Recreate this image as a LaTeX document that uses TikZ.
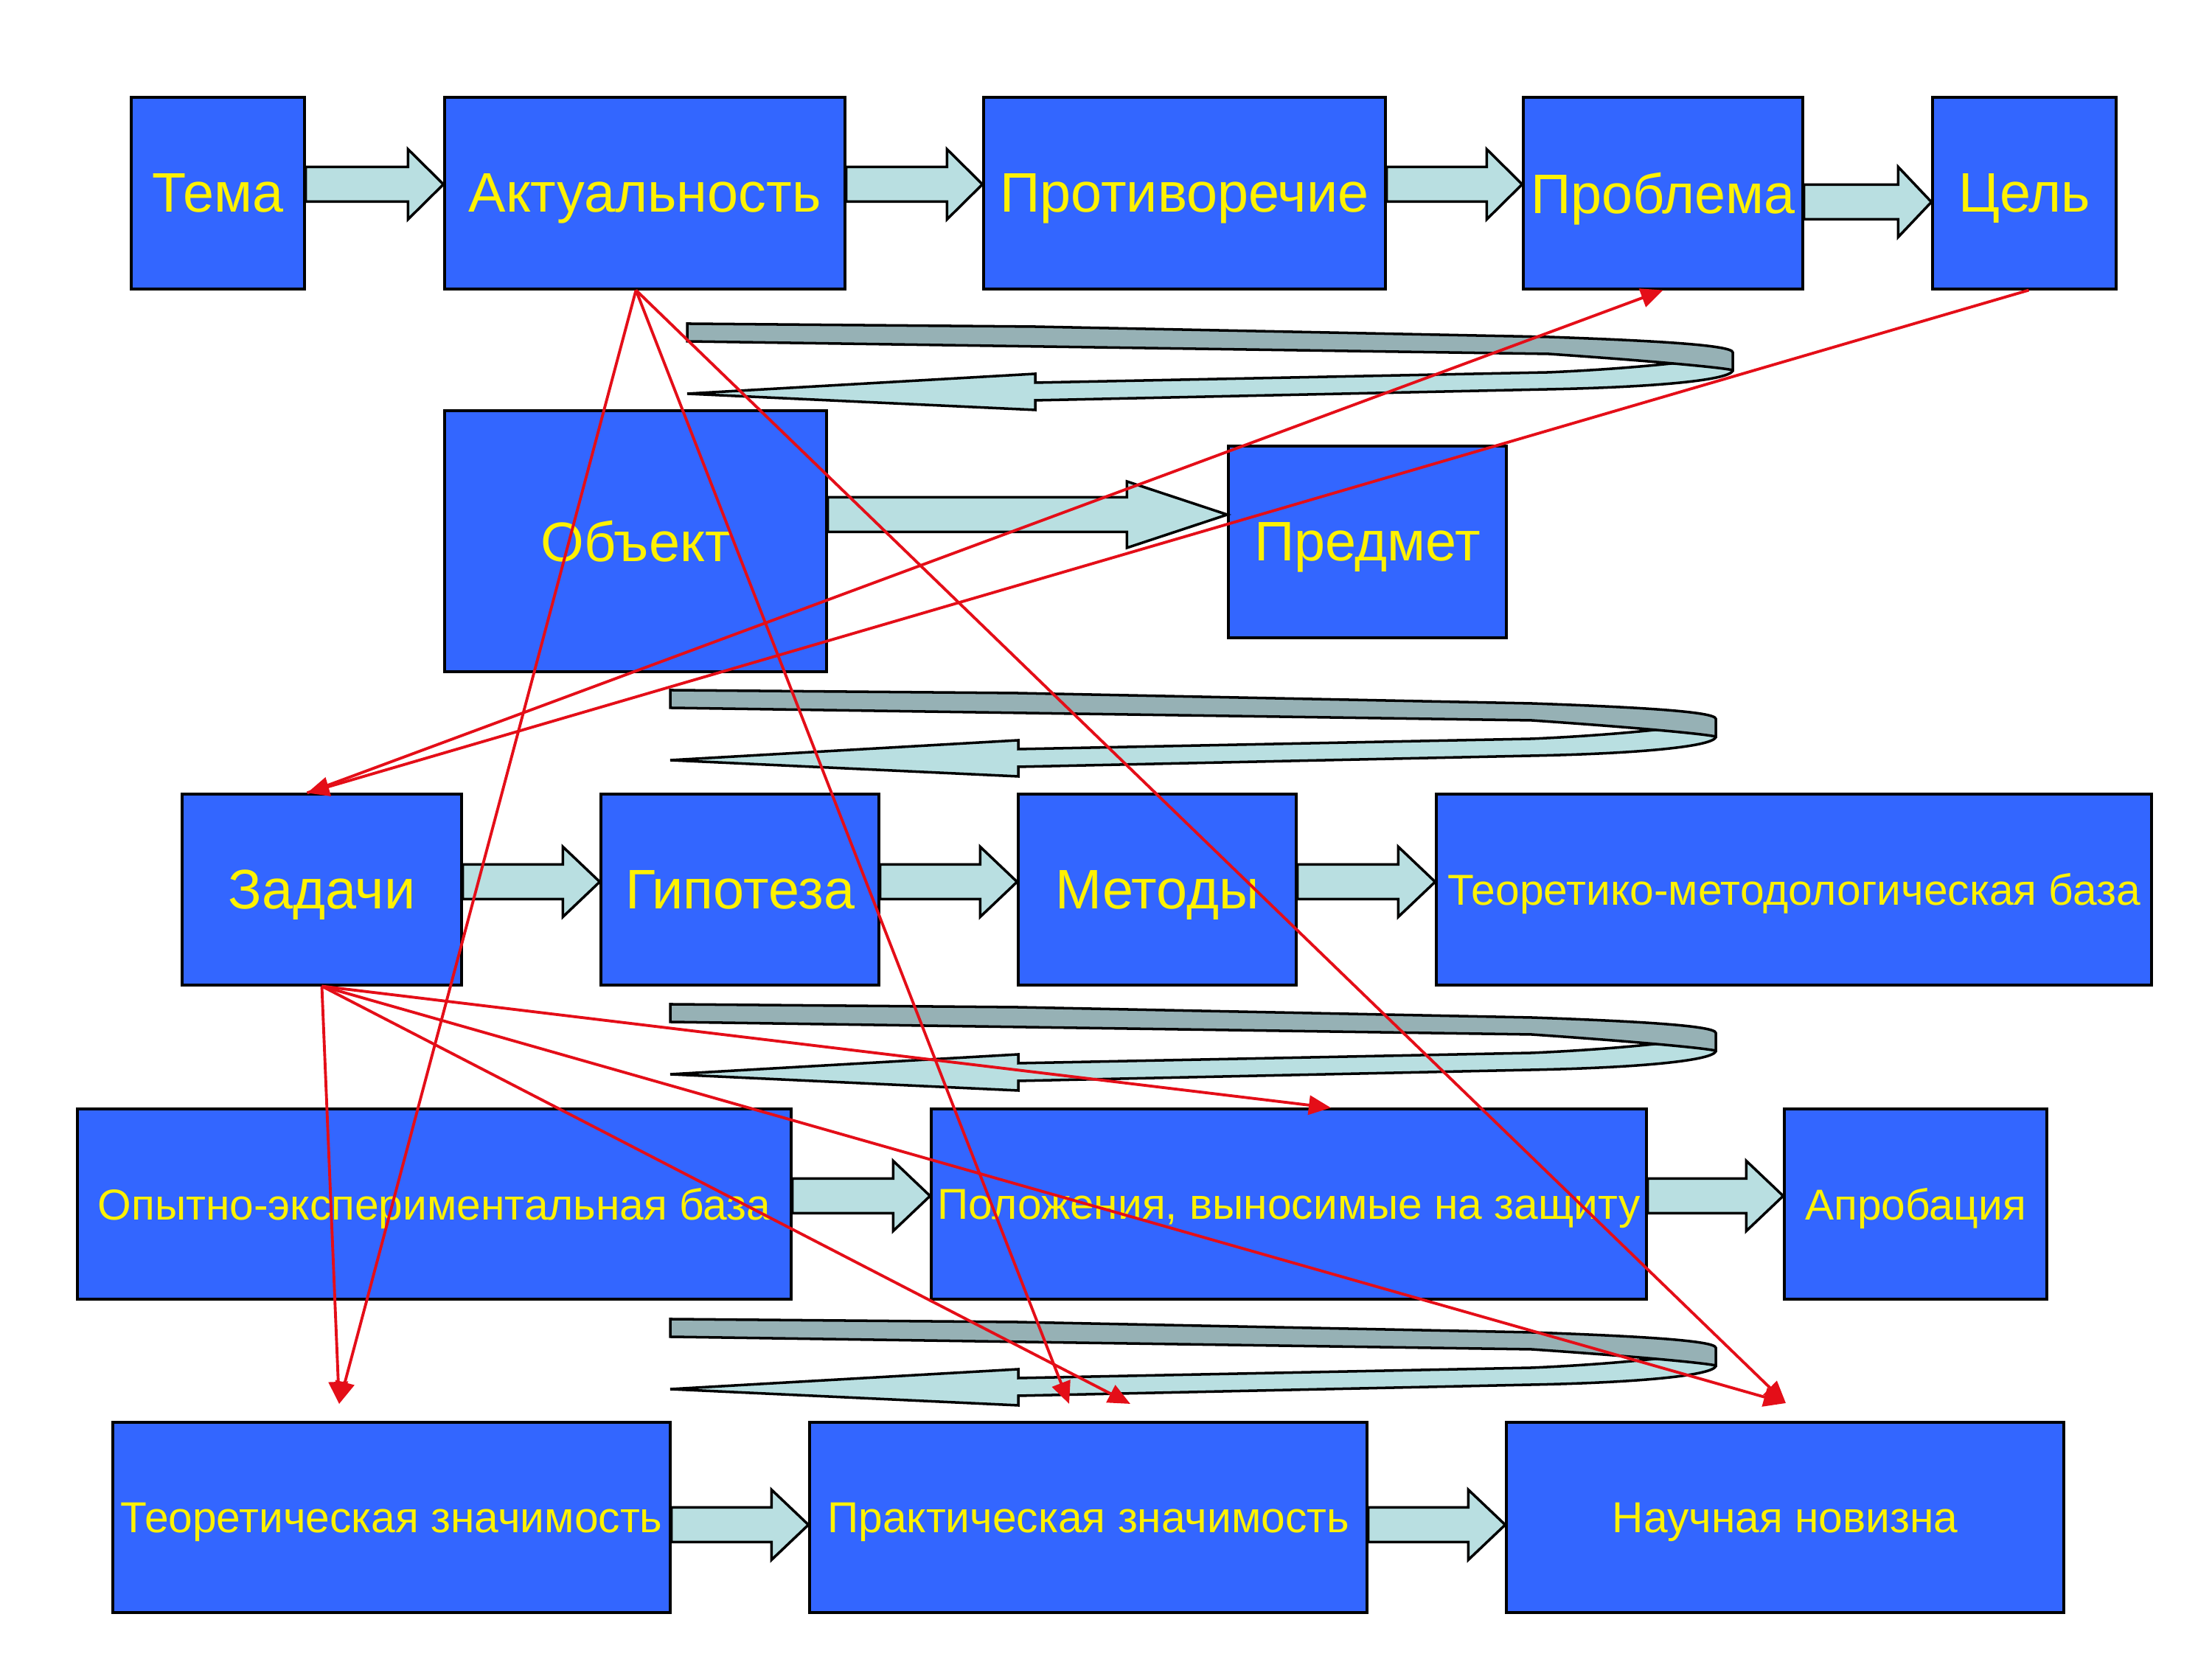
\documentclass[tikz,border=0pt]{standalone}
\usepackage{fontspec}
\setmainfont{Liberation Sans}
\usetikzlibrary{arrows.meta, calc}

\definecolor{boxblue}{RGB}{51,102,255}
\definecolor{arrowfill}{RGB}{185,223,225}
\definecolor{bandfill}{RGB}{150,177,181}
\definecolor{linkred}{RGB}{228,14,24}

% fat arrow between two boxes: from, to, y, head length, head half width
\newcommand{\fatarrow}[5]{%
  \draw[blockarrow] let \p1=(#1.east), \p2=(#2.west) in
    (\x1,{#3cm+0.235cm}) -- ({\x2-#4cm},{#3cm+0.235cm}) -- ({\x2-#4cm},{#3cm+#5cm})
    -- (\x2,#3cm) -- ({\x2-#4cm},{#3cm-#5cm}) -- ({\x2-#4cm},{#3cm-0.235cm})
    -- (\x1,{#3cm-0.235cm}) -- cycle;}

% turning arrow back to the next row: left x, top y
\newcommand{\uturn}[2]{%
  \begin{scope}[shift={(#1,#2)}]
    \filldraw[uturnlight] (0,-0.95) -- (4.72,-0.68) -- (4.72,-0.80) -- (11.68,-0.66)
      .. controls (12.6,-0.62) and (13.3,-0.55) .. (13.7,-0.5) -- (14.18,-0.5) -- (14.18,-0.63)
      .. controls (14.18,-0.76) and (13.18,-0.86) .. (11.68,-0.89) -- (4.72,-1.04) -- (4.72,-1.17) -- cycle;
    \filldraw[uturndark] (0,0) -- (4.7,-0.04) -- (11.68,-0.18)
      .. controls (13.1,-0.23) and (14.18,-0.29) .. (14.18,-0.39) -- (14.18,-0.63)
      .. controls (14.0,-0.59) and (13.0,-0.50) .. (11.68,-0.41) -- (0,-0.24) -- cycle;
  \end{scope}}

\begin{document}
\begin{tikzpicture}[
    box/.style={rectangle, draw, line width=0.9pt, fill=boxblue, text=yellow, inner sep=0pt, text depth=0pt, align=center, font=\fontsize{21.5}{26}\selectfont},
    smallbox/.style={box, font=\fontsize{16.7}{20}\selectfont},
    blockarrow/.style={draw, line width=1pt, fill=arrowfill},
    uturnlight/.style={draw, line width=1pt, fill=arrowfill},
    uturndark/.style={draw, line width=1pt, fill=bandfill},
    link/.style={-{Triangle[length=3mm, width=2.6mm]}, linkred, line width=1.1pt}
]
\useasboundingbox (0,0) rectangle (30,22.5);

% Row 1
\node[box, minimum width=2.35cm, minimum height=2.6cm] (tema) at (2.955,19.88) {Тема};
\node[box, minimum width=5.43cm, minimum height=2.6cm] (aktual) at (8.745,19.88) {Актуальность};
\node[box, minimum width=5.45cm, minimum height=2.6cm] (protiv) at (16.065,19.88) {Противоречие};
\node[box, minimum width=3.79cm, minimum height=2.6cm] (problema) at (22.555,19.88) {Проблема};
\node[box, minimum width=2.49cm, minimum height=2.6cm] (cel) at (27.455,19.88) {Цель};

% Row 2
\node[box, minimum width=5.18cm, minimum height=3.54cm] (objekt) at (8.62,15.16) {Объект};
\node[box, minimum width=3.77cm, minimum height=2.6cm] (predmet) at (18.545,15.15) {Предмет};

% Row 3
\node[box, minimum width=3.79cm, minimum height=2.59cm] (zadachi) at (4.365,10.435) {Задачи};
\node[box, minimum width=3.77cm, minimum height=2.59cm] (gipoteza) at (10.035,10.435) {Гипотеза};
\node[box, minimum width=3.77cm, minimum height=2.59cm] (metody) at (15.695,10.435) {Методы};
\node[smallbox, minimum width=9.70cm, minimum height=2.59cm] (tmb) at (24.33,10.435) {Теоретико-методологическая база};

% Row 4
\node[smallbox, minimum width=9.68cm, minimum height=2.58cm] (oeb) at (5.89,6.17) {Опытно-экспериментальная база};
\node[smallbox, minimum width=9.70cm, minimum height=2.58cm] (polozh) at (17.48,6.17) {Положения, выносимые на защиту};
\node[smallbox, minimum width=3.56cm, minimum height=2.58cm] (aprob) at (25.98,6.17) {Апробация};

% Row 5
\node[smallbox, minimum width=7.56cm, minimum height=2.58cm] (tz) at (5.31,1.92) {Теоретическая значимость};
\node[smallbox, minimum width=7.56cm, minimum height=2.58cm] (pz) at (14.76,1.92) {Практическая значимость};
\node[smallbox, minimum width=7.56cm, minimum height=2.58cm] (nn) at (24.21,1.92) {Научная новизна};

% Fat arrows along the rows
\fatarrow{tema}{aktual}{20.0}{0.48}{0.475}
\fatarrow{aktual}{protiv}{20.0}{0.48}{0.475}
\fatarrow{protiv}{problema}{20.0}{0.48}{0.475}
\fatarrow{problema}{cel}{19.76}{0.45}{0.475}
\fatarrow{objekt}{predmet}{15.52}{1.36}{0.45}
\fatarrow{zadachi}{gipoteza}{10.54}{0.5}{0.475}
\fatarrow{gipoteza}{metody}{10.54}{0.5}{0.475}
\fatarrow{metody}{tmb}{10.54}{0.5}{0.475}
\fatarrow{oeb}{polozh}{6.28}{0.5}{0.475}
\fatarrow{polozh}{aprob}{6.28}{0.5}{0.475}
\fatarrow{tz}{pz}{1.82}{0.5}{0.475}
\fatarrow{pz}{nn}{1.82}{0.5}{0.475}

% Turning arrows between rows
\uturn{9.32}{18.11}
\uturn{9.09}{13.14}
\uturn{9.09}{8.88}
\uturn{9.09}{4.61}

% Free ends above the last row
\coordinate (tzTip) at (4.60,3.46);
\coordinate (pzTipA) at (14.50,3.46);
\coordinate (pzTipB) at (15.33,3.46);
\coordinate (nnTip) at (24.22,3.47);

% Red links
\draw[link] ([xshift=-1.2mm]aktual.south) -- (tzTip);
\draw[link] ([xshift=-1.2mm]aktual.south) -- (pzTipA);
\draw[link] ([xshift=-1.2mm]aktual.south) -- (nnTip);
\draw[link] (zadachi.south) -- (tzTip);
\draw[link] (zadachi.south) -- (pzTipB);
\draw[link] (zadachi.south) -- ([xshift=5.7mm]polozh.north);
\draw[link] (zadachi.south) -- (nnTip);
\draw[link] ([xshift=-2mm]zadachi.north) -- (problema.south);
\draw[link] ([xshift=0.6mm]cel.south) -- ([xshift=-2mm]zadachi.north);

\end{tikzpicture}
\end{document}
